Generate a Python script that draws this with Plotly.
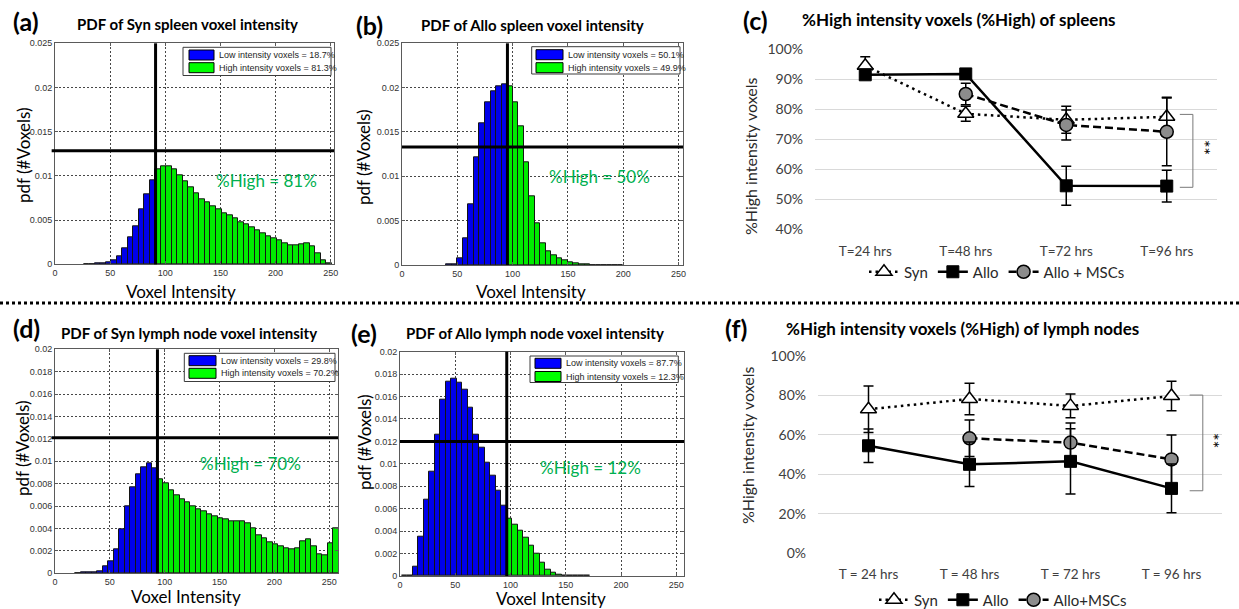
import plotly.graph_objects as go

W, H = 1239, 609

# ---------------- data: voxel-intensity histograms (pdf, bins 5 units wide) ----------------
BIN_W = 5
syn_spleen_first_bin = -1.5
syn_spleen_pdf = [0, 0, 0, 0, 0, 0,
    0.00005, 0.00005, 0.0001, 0.0001, 0.0002, 0.0005, 0.0009, 0.0018, 0.0030, 0.0043,
    0.0062, 0.0079, 0.0095, 0.0108, 0.0111, 0.0111, 0.0107, 0.0101, 0.0094, 0.0087,
    0.0080, 0.0074, 0.0070, 0.0066, 0.0062, 0.0058, 0.0055, 0.0052, 0.0048, 0.0045,
    0.0042, 0.0039, 0.0035, 0.0032, 0.0029, 0.0027, 0.0024, 0.0022, 0.0021, 0.0023,
    0.0024, 0.0020, 0.0012, 0.0005, 0.0001, 0]

allo_spleen_first_bin = -2.5
allo_spleen_pdf = [0, 0, 0, 0, 0, 0, 0, 0, 0,
    0.00003, 0.0001, 0.0008, 0.0030, 0.0068, 0.0122, 0.0160, 0.0183, 0.0196, 0.0202,
    0.0204, 0.0202, 0.0183, 0.0156, 0.0116, 0.0078, 0.0047, 0.0025, 0.0016, 0.0011,
    0.0007, 0.0005, 0.0003, 0.0002, 0.0001, 0.00005,
    0.00002, 0.00002, 0.00002, 0.00002, 0.00002, 0.00002,
    0, 0, 0, 0, 0, 0, 0, 0, 0, 0, 0]

syn_ln_first_bin = 1.0
syn_ln_pdf = [0, 0, 0, 0,
    0.00003, 0.00005, 0.00005, 0.0001, 0.0002, 0.0006, 0.0011, 0.0021, 0.0039, 0.0060,
    0.0077, 0.0088, 0.0095, 0.0098, 0.0094, 0.0084, 0.0080, 0.0074, 0.0070, 0.0066,
    0.0063, 0.0060, 0.0057, 0.0055, 0.0053, 0.0051, 0.0049, 0.0048, 0.0046, 0.0046,
    0.0046, 0.0045, 0.0040, 0.0034, 0.0031, 0.0028, 0.0026, 0.0024, 0.0022, 0.0021,
    0.0022, 0.0029, 0.0030, 0.0024, 0.0017, 0.0016, 0.0027, 0.0040]

allo_ln_first_bin = -1.0
allo_ln_pdf = [0, 0.00002, 0.00005, 0.0008, 0.0035, 0.0068, 0.0093, 0.0126, 0.0157, 0.0173,
    0.0176, 0.0172, 0.0166, 0.0150, 0.0126, 0.0114, 0.0101, 0.0089, 0.0076, 0.0063,
    0.0051, 0.0046, 0.0040, 0.0034, 0.0027, 0.0020, 0.0012, 0.0006, 0.0003, 0.0001,
    0.00004, 0.00003, 0.00002, 0.00002, 0.00001,
    0, 0, 0, 0, 0, 0, 0, 0, 0, 0, 0, 0, 0, 0, 0, 0, 0]

# threshold (vertical line) and horizontal reference line of each histogram
thresholds = [91.2, 95.3, 93.4, 96.6]
hlines = [0.01285, 0.0133, 0.0121, 0.0120]
low_pct = ["18.7%", "50.1%", "29.8%", "87.7%"]
high_pct = ["81.3%", "49.9%", "70.2%", "12.3%"]
high_label = ["%High = 81%", "%High = 50%", "%High = 70%", "%High = 12%"]
hist_titles = ["PDF of Syn spleen voxel intensity", "PDF of Allo spleen voxel intensity",
               "PDF of Syn lymph node voxel intensity", "PDF of Allo lymph node voxel intensity"]

# ---------------- data: %High over time ----------------
spleen_times = ["T=24 hrs", "T=48 hrs", "T=72 hrs", "T=96 hrs"]
ln_times = ["T = 24 hrs", "T = 48 hrs", "T = 72 hrs", "T = 96 hrs"]
spleen_syn = [94.5, 78.5, 76.5, 77.5]
spleen_syn_err = [3.0, 2.5, 4.5, 6.5]
spleen_allo = [91.5, 91.8, 54.5, 54.4]
spleen_allo_err = [1.0, 1.0, 6.5, 5.3]
spleen_msc = [None, 85.1, 74.8, 72.5]
spleen_msc_err = [0, 3.6, 5.0, 11.3]
ln_syn = [73.0, 78.2, 74.7, 79.7]
ln_syn_err = [11.8, 8.0, 6.0, 7.5]
ln_allo = [54.5, 45.1, 46.6, 32.9]
ln_allo_err = [8.5, 11.3, 16.5, 12.3]
ln_msc = [None, 58.3, 56.1, 47.6]
ln_msc_err = [0, 9.3, 10.0, 12.4]

# ---------------- styling ----------------
HEAD = "Lato"
TICK = "Liberation Sans Narrow, Arial Narrow, Liberation Sans, Arial"
GREEN_TXT = "rgb(0,176,80)"
BLUE = "rgb(0,0,235)"
GREEN = "rgb(0,235,0)"


def xdom(l, r):
    return [l / W, r / W]


def ydom(t, b):
    return [1 - b / H, 1 - t / H]


fig = go.Figure()
annotations = []
shapes = []


def txt(s, x, y, size, color="black", bold=False, family=HEAD, xanchor="center",
        yanchor="middle", angle=0, xref="paper", yref="paper"):
    if xref == "paper":
        x = x / W
    if yref == "paper":
        y = 1 - y / H
    annotations.append(dict(text=f"<b>{s}</b>" if bold else s, x=x, y=y, xref=xref, yref=yref,
                            showarrow=False, font=dict(family=family, size=size, color=color),
                            xanchor=xanchor, yanchor=yanchor, textangle=angle))


# histogram panels: (pdf, first bin, axis index, x px domain, y px domain, x range, y max, dy)
hist_specs = [
    (syn_spleen_pdf, syn_spleen_first_bin, 1, (55, 334), (43.3, 264.3), 253, 0.025, 0.005),
    (allo_spleen_pdf, allo_spleen_first_bin, 2, (402, 683), (43.3, 265), 254, 0.025, 0.005),
    (syn_ln_pdf, syn_ln_first_bin, 3, (55, 338), (349.3, 573.3), 258, 0.02, 0.002),
    (allo_ln_pdf, allo_ln_first_bin, 4, (400, 684), (351.7, 576), 257, 0.02, 0.002),
]

for k, (pdf, first, ax, xpx, ypx, xmax, ymax, dy) in enumerate(hist_specs):
    centers = [first + BIN_W * i for i in range(len(pdf))]
    vals = [v if v > 0 else None for v in pdf]
    colors = [BLUE if c < thresholds[k] else GREEN for c in centers]
    xid = "x" if ax == 1 else f"x{ax}"
    yid = "y" if ax == 1 else f"y{ax}"
    fig.add_trace(go.Bar(x=centers, y=vals, width=BIN_W, xaxis=xid, yaxis=yid,
                         marker=dict(color=colors, line=dict(color="rgb(20,20,20)", width=1)),
                         showlegend=False, hoverinfo="skip"))
    nticks = int(round(ymax / dy))
    yt = [round(dy * i, 4) for i in range(nticks + 1)]
    ytt = ["0"] + [("%g" % v) for v in yt[1:]]
    axcommon = dict(showline=True, linecolor="rgb(90,90,90)", linewidth=1, mirror="ticks",
                    ticks="inside", ticklen=3, tickcolor="rgb(90,90,90)", zeroline=False,
                    showgrid=True, gridcolor="rgb(70,70,70)", gridwidth=1, griddash="2px,2px",
                    automargin=False,
                    tickfont=dict(family=TICK, size=9, color="rgb(50,50,50)"))
    fig.update_layout(**{
        ("xaxis" if ax == 1 else f"xaxis{ax}"): dict(domain=xdom(*xpx), range=[0, xmax],
                                                      tickvals=[0, 50, 100, 150, 200, 250],
                                                      anchor=yid, **axcommon),
        ("yaxis" if ax == 1 else f"yaxis{ax}"): dict(domain=ydom(*ypx), range=[0, ymax],
                                                      tickvals=yt, ticktext=ytt,
                                                      anchor=xid, **axcommon),
    })
    # threshold lines
    ext = -0.012 if k in (0, 2) else 0
    shapes.append(dict(type="line", xref=xid, yref=f"{yid} domain", x0=thresholds[k], x1=thresholds[k],
                       y0=0, y1=1, line=dict(color="black", width=3)))
    shapes.append(dict(type="line", xref=f"{xid} domain", yref=yid, x0=ext, x1=1,
                       y0=hlines[k], y1=hlines[k], line=dict(color="black", width=3)))

# %High texts (data coords)
high_pos = [(192, 0.0095), (178.6, 0.00996), (178, 0.00976), (172, 0.00966)]
for k, (hx, hy) in enumerate(high_pos):
    xid = "x" if k == 0 else f"x{k + 1}"
    yid = "y" if k == 0 else f"y{k + 1}"
    txt(high_label[k], hx, hy, 17, color=GREEN_TXT, xref=xid, yref=yid)

# histogram legends: (box l, t, r, b, swatch l, swatch r, row1 y, row2 y)
leg_boxes = [(183, 47.3, 331, 75.5, 189, 214, 55, 67.7),
             (531.7, 46.7, 680, 74, 536, 563, 54.7, 67.7),
             (184.3, 353.3, 335, 381.5, 189, 216, 360.7, 373.3),
             (530, 356, 678.3, 382.5, 535, 561, 363.3, 376.5)]
for k, (bl, bt, br, bb, sl, sr, r1, r2) in enumerate(leg_boxes):
    shapes.append(dict(type="rect", xref="paper", yref="paper", x0=bl / W, x1=br / W,
                       y0=1 - bb / H, y1=1 - bt / H, fillcolor="white",
                       line=dict(color="rgb(60,60,60)", width=1), layer="above"))
    for ry, col, lab in ((r1, "rgb(0,0,255)", "Low intensity voxels = " + low_pct[k]),
                         (r2, "rgb(0,255,0)", "High intensity voxels = " + high_pct[k])):
        shapes.append(dict(type="rect", xref="paper", yref="paper", x0=sl / W, x1=sr / W,
                           y0=1 - (ry + 5) / H, y1=1 - (ry - 5) / H, fillcolor=col,
                           line=dict(color="black", width=1), layer="above"))
        txt(lab, sr + 3, ry, 9, color="rgb(30,30,30)", family=TICK, xanchor="left")

# histogram titles, labels
title_pos = [(187, 24), (532, 25), (189, 333), (535, 333)]
for k, (tx, ty) in enumerate(title_pos):
    txt(hist_titles[k], tx, ty, 15, bold=True)
ylab_pos = [(23, 155), (363, 157), (22, 448), (364, 442)]
xlab_pos = [(181, 291), (531, 291), (186, 596), (551, 598)]
for (yx, yy) in ylab_pos:
    txt("pdf (#Voxels)", yx, yy, 17, angle=-90)
for (xx, xy) in xlab_pos:
    txt("Voxel Intensity", xx, xy, 17)

for lab, lx, ly in (("(a)", 26, 21), ("(b)", 369, 25), ("(c)", 755, 20),
                    ("(d)", 27, 328), ("(e)", 364, 333), ("(f)", 736, 328)):
    txt(lab, lx, ly, 25, bold=True)

# ---------------- line charts ----------------
line_specs = [
    (5, "legend", (815, 1217), (48.7, 229.9), [39.8, 100.2], list(range(40, 101, 10)), spleen_times, 12,
     [("Syn", spleen_syn, spleen_syn_err), ("Allo + MSCs", spleen_msc, spleen_msc_err),
      ("Allo", spleen_allo, spleen_allo_err)]),
    (6, "legend2", (818, 1222), (355, 554.3), [-0.5, 100.5], list(range(0, 101, 20)), ln_times, 10,
     [("Syn", ln_syn, ln_syn_err), ("Allo+MSCs", ln_msc, ln_msc_err),
      ("Allo", ln_allo, ln_allo_err)]),
]
style = {
    "Syn": dict(line=dict(color="black", width=2.5, dash="2.5px,4px"),
                marker=dict(symbol="triangle-up", size=14, color="white",
                            line=dict(color="black", width=1.5)), rank=1),
    "Allo": dict(line=dict(color="black", width=2.5),
                 marker=dict(symbol="square", size=12, color="black",
                             line=dict(color="black", width=1)), rank=2),
    "MSC": dict(line=dict(color="black", width=2.5, dash="8px,4px"),
                marker=dict(symbol="circle", size=13, color="rgb(140,140,140)",
                            line=dict(color="black", width=1.5)), rank=3),
}
for ax, leg, xpx, ypx, yr, yt, cats, xstand, series in line_specs:
    xid, yid = f"x{ax}", f"y{ax}"
    for name, yv, ev in series:
        st = style["MSC" if "MSC" in name else name]
        fig.add_trace(go.Scatter(x=list(range(len(cats))), y=yv, name=name, mode="lines+markers",
                                 xaxis=xid, yaxis=yid, line=st["line"], marker=st["marker"],
                                 error_y=dict(type="data", array=ev, color="black", thickness=1.5, width=5),
                                 legend=leg, legendrank=st["rank"], hoverinfo="skip"))
    fig.update_layout(**{
        f"xaxis{ax}": dict(domain=xdom(*xpx), range=[-0.5, 3.5], tickvals=list(range(len(cats))),
                           ticktext=cats, showgrid=False, showline=False, zeroline=False, ticks="",
                           anchor=yid, ticklabelstandoff=xstand, automargin=False,
                           tickfont=dict(family=HEAD, size=13.5, color="rgb(64,64,64)")),
        f"yaxis{ax}": dict(domain=ydom(*ypx), range=yr, tickvals=yt, ticktext=[f"{v}%" for v in yt],
                           showgrid=True, gridcolor="rgb(217,217,217)", gridwidth=1, zeroline=False,
                           showline=False, ticks="", anchor=xid, ticklabelstandoff=11, automargin=False,
                           tickfont=dict(family=HEAD, size=14, color="rgb(64,64,64)")),
    })

# significance brackets
for xid, yid, top, bot, x0, x1, sx in (("x5", "y5", 78.3, 54.0, 3.13, 3.26, 3.37),
                                       ("x6", "y6", 80.2, 31.7, 3.18, 3.31, 3.41)):
    shapes.append(dict(type="path", xref=xid, yref=yid,
                       path=f"M {x0},{top} L {x1},{top} L {x1},{bot} L {x0},{bot}",
                       line=dict(color="rgb(120,120,120)", width=1)))
    txt("**", sx, (top + bot) / 2 + 1, 18, angle=90, xref=xid, yref=yid)

txt("%High intensity voxels (%High) of spleens", 958, 20, 17, bold=True)
txt("%High intensity voxels (%High) of lymph nodes", 962, 328, 17, bold=True)
txt("%High intensity voxels", 750, 157, 16, angle=-90, color="rgb(40,40,40)")
txt("%High intensity voxels", 747, 446, 16, angle=-90, color="rgb(40,40,40)")

# dotted separator
shapes.append(dict(type="line", xref="paper", yref="paper", x0=0, x1=1, y0=1 - 303 / H, y1=1 - 303 / H,
                   line=dict(color="black", width=3, dash="3px,3px")))

legfont = dict(family=HEAD, size=15, color="rgb(40,40,40)")
fig.update_layout(
    width=W, height=H, margin=dict(l=0, r=0, t=0, b=0, autoexpand=False),
    paper_bgcolor="white", plot_bgcolor="white",
    bargap=0, barmode="overlay",
    annotations=annotations, shapes=shapes,
    legend=dict(orientation="h", x=997 / W, xanchor="center", y=1 - 272 / H, yanchor="middle",
                font=legfont, bgcolor="rgba(0,0,0,0)", itemwidth=30, tracegroupgap=0),
    legend2=dict(orientation="h", x=1003 / W, xanchor="center", y=1 - 600 / H, yanchor="middle",
                 font=legfont, bgcolor="rgba(0,0,0,0)", itemwidth=30, tracegroupgap=0),
)

fig.write_html("out.html", config={"displayModeBar": False},
               post_script="document.body.style.margin='0';document.body.style.overflow='hidden';")
